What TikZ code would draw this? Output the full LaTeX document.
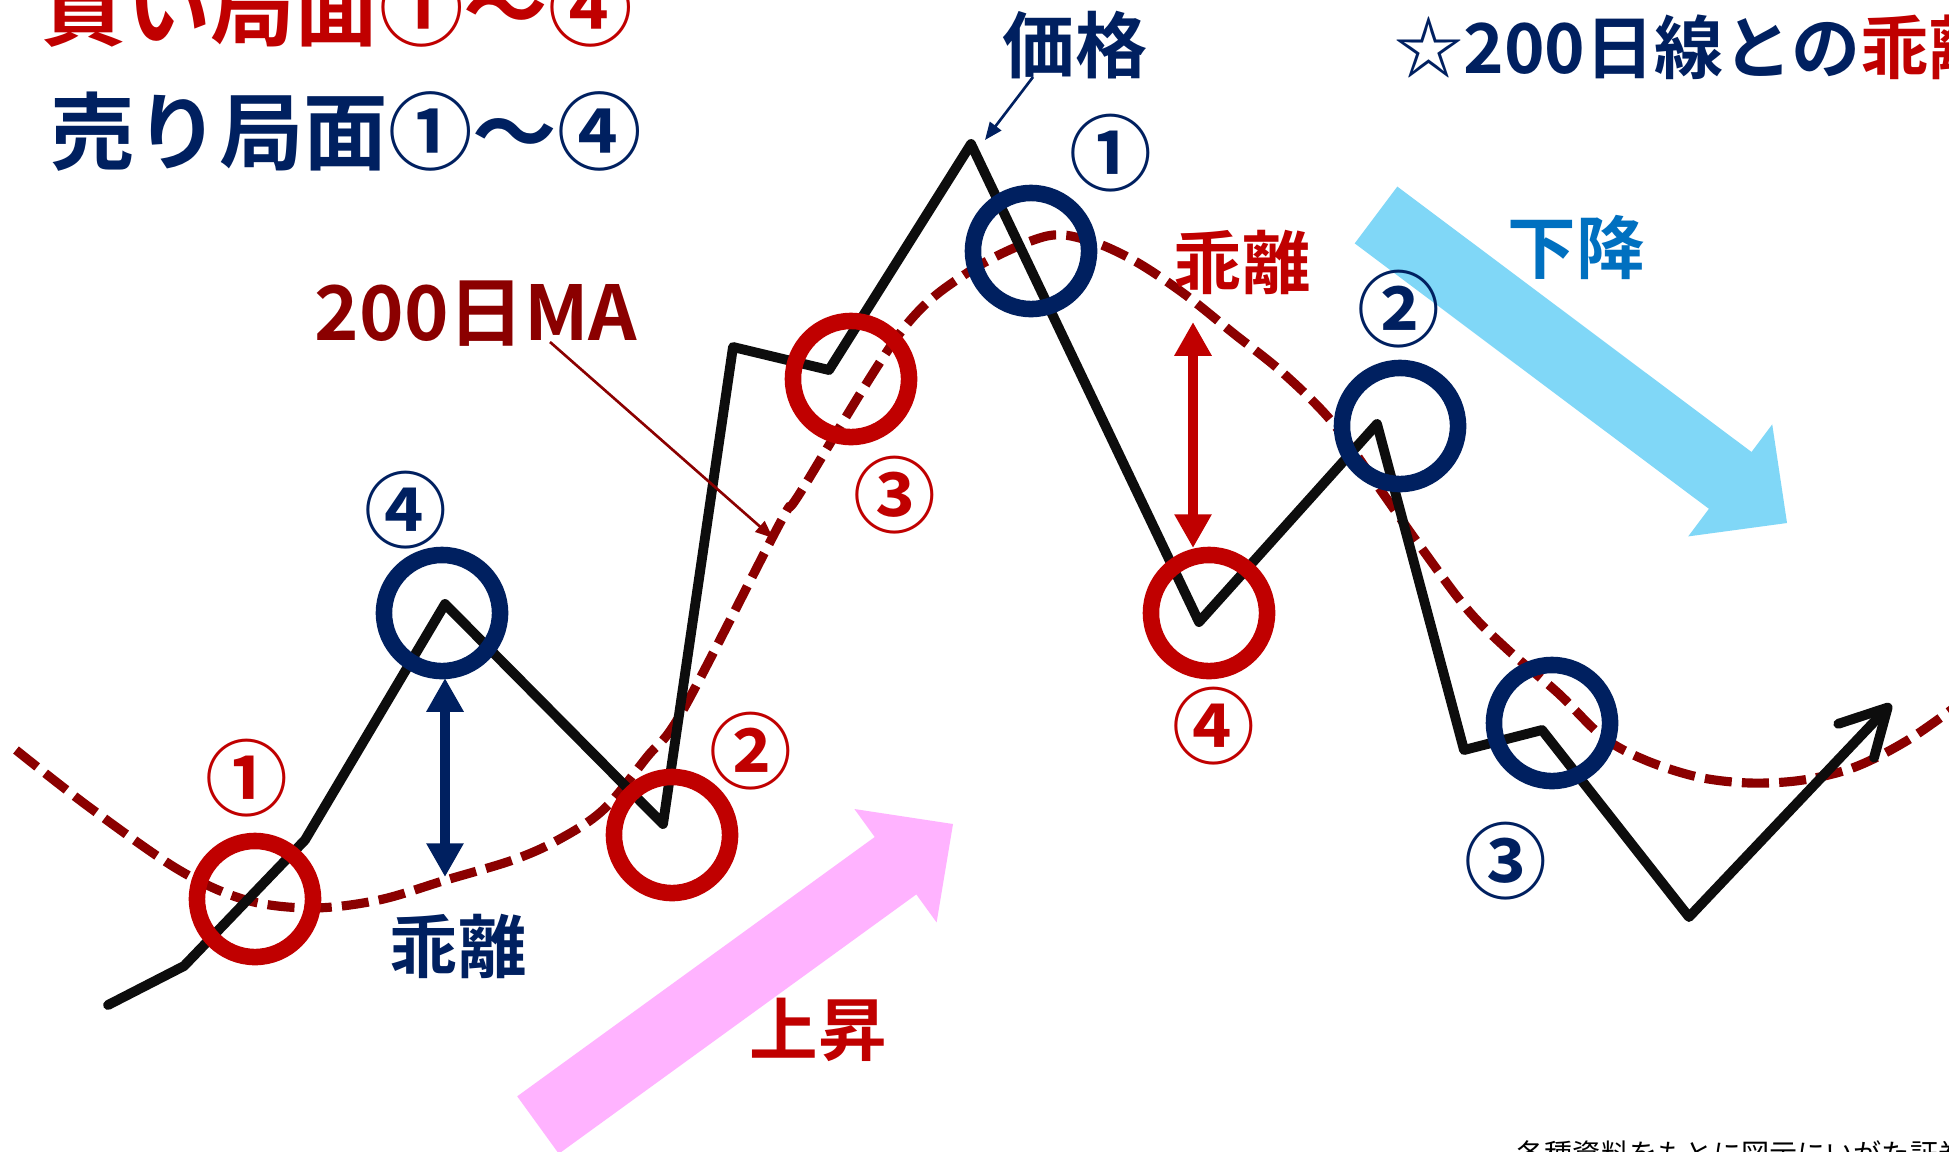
\documentclass[tikz,border=0pt]{standalone}
\usepackage{fontspec}
\usetikzlibrary{arrows.meta}
\newfontfamily\jpfont{Noto Sans CJK JP}[BoldFont={Noto Sans CJK JP Bold}]
\newcommand\jpsz[1]{\jpfont\bfseries\fontsize{#1}{#1}\selectfont}
\definecolor{cred}{HTML}{C00000}
\definecolor{cnavy}{HTML}{002060}
\definecolor{cdred}{HTML}{8B0000}
\definecolor{cblue}{HTML}{0070C0}
\definecolor{clblue}{HTML}{80D7F7}
\definecolor{cpink}{HTML}{FFB3FF}
\begin{document}
\begin{tikzpicture}[x=0.01cm,y=-0.01cm,
  price/.style={line width=2.8pt,line join=round,line cap=round,black!95},
  maline/.style={cdred,line width=2.6pt,dash pattern=on 7.7pt off 2.9pt},
  ring/.style={circle,draw,line width=4.7pt,minimum size=1.16cm,inner sep=0pt},
  numlbl/.style={inner sep=0pt,font=\jpsz{23.5pt}},
  lbl/.style={inner sep=0pt,font=\jpsz{19.5pt}},
  leader/.style={line width=0.75pt,-{Triangle[length=5pt,width=4pt]}},
  dbl/.style={line width=3.1pt,{Triangle[length=9.6pt,width=10pt]}-{Triangle[length=9.6pt,width=10pt]}}
]
\useasboundingbox (0,0) rectangle (1949,1151);
\clip (0,0) rectangle (1949,1151);
\fill[white] (0,0) rectangle (1949,1151);

% big block arrows
\fill[clblue] (1397.3,186.6) -- (1751.5,452) -- (1772.2,424.4) -- (1787,523)
  -- (1688.2,536.4) -- (1708.9,508.8) -- (1354.7,243.4) -- cycle;
\fill[cpink] (517.2,1096.3) -- (874.7,837) -- (854.4,809) -- (953,824)
  -- (936.6,922.4) -- (916.3,894.4) -- (558.8,1153.7) -- cycle;

% 200-day moving average
\draw[maline] plot[smooth,tension=0.55] coordinates {
  (16,750) (89,807) (179,870) (246,900) (312,908) (379,900) (446,880)
  (513,860) (558,840) (603,810) (647,757) (683,710) (780,523) (800,493)
  (900,333) (967,273) (1043,237) (1087,240) (1133,260) (1183,293)
  (1233,333) (1283,373) (1333,423) (1382,492) (1420,546) (1467,609)
  (1508,650) (1558,693) (1603,737) (1645,760) (1698,777) (1750,783)
  (1803,780) (1855,767) (1908,740) (1962,702)};

% price line
\coordinate (p0) at (108,1005);
\coordinate (p1) at (184,966);
\coordinate (p2) at (305,840);
\coordinate (p3) at (445,604);
\coordinate (p4) at (663,824);
\coordinate (p5) at (733,347);
\coordinate (p6) at (829,370);
\coordinate (p7) at (971,144);
\coordinate (p8) at (1199,622);
\coordinate (p9) at (1377,424);
\coordinate (p10) at (1464,750);
\coordinate (p11) at (1542,730);
\coordinate (p12) at (1689,917);
\coordinate (p13) at (1891,704);
\draw[price,-{Straight Barb[length=13pt,width=14pt,round]}]
  (p0) -- (p1) -- (p2) -- (p3) -- (p4) -- (p5) -- (p6) -- (p7) -- (p8)
  -- (p9) -- (p10) -- (p11) -- (p12) -- (p13);

% rings
\node[ring,cred] (r1) at (255,899) {};
\node[ring,cred] (r2) at (672,835) {};
\node[ring,cred] (r3) at (851,379) {};
\node[ring,cred] (r4) at (1209,613) {};
\node[ring,cnavy] (n1) at (1031,251) {};
\node[ring,cnavy] (n2) at (1400,426) {};
\node[ring,cnavy] (n3) at (1552,723) {};
\node[ring,cnavy] (n4) at (442,613) {};

% circled numbers
\node[numlbl,cred] (lr1) at (247,778) {①};
\node[numlbl,cred] (lr2) at (751,751) {②};
\node[numlbl,cred] (lr3) at (895,495) {③};
\node[numlbl,cred] (lr4) at (1214,726) {④};
\node[numlbl,cnavy] (ln1) at (1111,153) {①};
\node[numlbl,cnavy] (ln2) at (1399,309) {②};
\node[numlbl,cnavy] (ln3) at (1506,861) {③};
\node[numlbl,cnavy] (ln4) at (406,510) {④};

% double arrows (divergence)
\coordinate (ra1) at (1193,322);
\coordinate (ra2) at (1193,548);
\draw[dbl,cred] (ra1) -- (ra2);
\coordinate (na1) at (445,678);
\coordinate (na2) at (445,877);
\draw[dbl,cnavy] (na1) -- (na2);

% texts
\node[inner sep=0pt,anchor=west,cred,font=\jpsz{24pt}] (buy) at (41,8) {買い局面①～④};
\node[inner sep=0pt,anchor=west,cnavy,font=\jpsz{24pt}] (sell) at (50,131) {売り局面①～④};
\node[lbl,cnavy,font=\jpsz{20.5pt}] (kakaku) at (1075,45) {価格};
\node[inner sep=0pt,anchor=west,font=\jpsz{19.6pt}] (title) at (1394,47)
  {\textcolor{cnavy}{☆200日線との}\textcolor{cred}{乖離}};
\node[lbl,cred] (kairi1) at (1242,262) {乖離};
\node[lbl,cnavy] (kairi2) at (458,946) {乖離};
\node[lbl,cdred,font=\jpsz{21.5pt}] (ma) at (476,314) {200日MA};
\node[lbl,cblue] (down) at (1576,247) {下降};
\node[lbl,cred] (up) at (818,1030) {上昇};
\node[inner sep=0pt,anchor=north west,black,font=\jpfont\fontsize{8pt}{8pt}\selectfont] (src) at (1516,1140)
  {各種資料をもとに図示にいがた証券作成};

% leaders
\coordinate (kk1) at (1033,77);
\coordinate (kk2) at (985,140);
\draw[leader,cnavy] (kk1) -- (kk2);
\coordinate (ma1) at (550,342);
\coordinate (ma2) at (773,538);
\draw[leader,cdred] (ma1) -- (ma2);
\end{tikzpicture}
\end{document}
